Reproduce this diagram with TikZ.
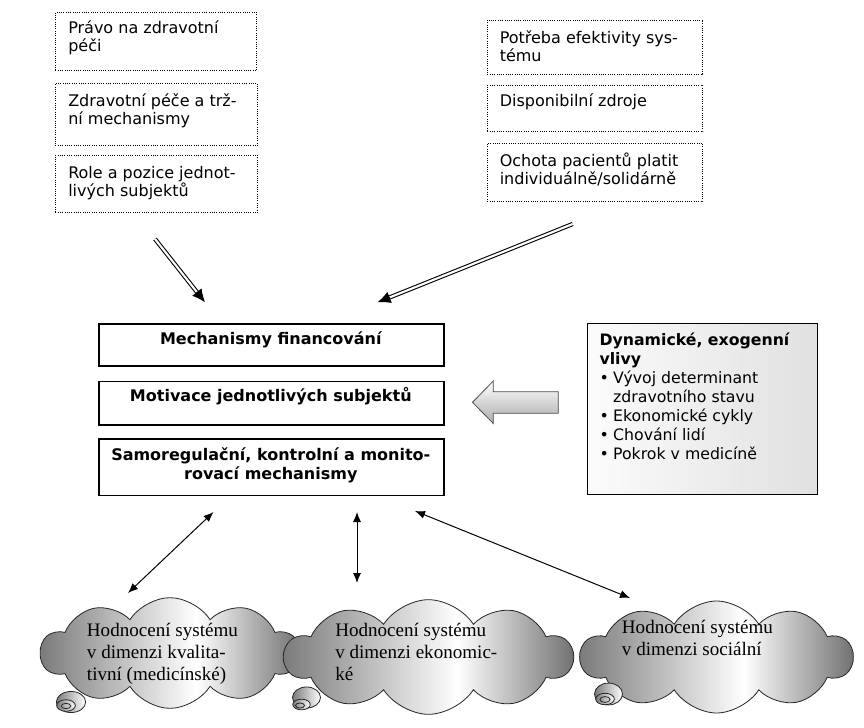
\documentclass[tikz,border=0pt]{standalone}
\usepackage{fontspec}
\newfontfamily\verd{DejaVu Sans}
\newfontfamily\tms{Liberation Serif}
\usetikzlibrary{shapes.symbols,arrows.meta,calc}
\pgfdeclarehorizontalshading{cloudsh}{100bp}{color(0bp)=(black!52); color(25bp)=(black!52); color(55bp)=(white); color(75bp)=(black!56); color(100bp)=(black!56)}
\pgfdeclarehorizontalshading{tailsh}{100bp}{color(0bp)=(black!52); color(25bp)=(black!52); color(75bp)=(white); color(100bp)=(white)}
\begin{document}
\begin{tikzpicture}[x=0.75pt,y=-0.75pt,
  dotbox/.style={draw, densely dotted, line width=0.7pt, inner sep=0, anchor=north west},
  txt/.style={font=\verd\fontsize{12}{13.5}\selectfont, align=left, inner sep=0, anchor=base west},
  midbox/.style={draw, line width=1pt, inner sep=0, anchor=north west, minimum width=258.75pt},
  boldtxt/.style={font=\verd\bfseries\fontsize{12}{14.25}\selectfont, align=center, inner sep=0, anchor=base},
  graytxt/.style={font=\verd\fontsize{11.8}{14.25}\selectfont, align=left, inner sep=0, anchor=base west},
  cloudtxt/.style={font=\tms\fontsize{14.3}{16.5}\selectfont, align=left, inner sep=0, anchor=base west},
  cloudbox/.style={cloud, cloud puffs=10, cloud puff arc=115, cloud ignores aspect, inner sep=0,
     draw=black!85, line width=0.6pt, shading=cloudsh},
  tailell/.style={draw=black!85, line width=0.6pt, shading=tailsh},
  dblline/.style={double, double distance=1.6pt, line width=0.8pt, shorten >=8pt},
  dblhead/.style={-{Latex[length=9.75pt,width=9pt]}, line width=0.8pt},
  biarrow/.style={{Latex[length=7.5pt,width=6pt]}-{Latex[length=7.5pt,width=6pt]}, line width=0.75pt}
]
\useasboundingbox (0,0) rectangle (864,728);

% top-left dotted boxes
\node[dotbox, minimum width=150.75pt, minimum height=43.5pt] (l1) at (55,12) {};
\node[txt] (tl1) at (68,51.5) {Právo na zdravotní\\péči};
\node[dotbox, minimum width=151.5pt, minimum height=46.5pt] (l2) at (55,83) {};
\node[txt] (tl2) at (68,124.7) {Zdravotní péče a trž-\\ní mechanismy};
\node[dotbox, minimum width=151.5pt, minimum height=42.75pt] (l3) at (55,155) {};
\node[txt] (tl3) at (68,196.3) {Role a pozice jednot-\\livých subjektů};

% top-right dotted boxes
\node[dotbox, minimum width=161.6pt, minimum height=40.5pt] (r1) at (487,19.5) {};
\node[txt] (tr1) at (499.5,61) {Potřeba efektivity sys-\\tému};
\node[dotbox, minimum width=161.6pt, minimum height=34.5pt] (r2) at (487,85) {};
\node[txt] (tr2) at (499.5,106.7) {Disponibilní zdroje};
\node[dotbox, minimum width=161.6pt, minimum height=43.5pt] (r3) at (487,143) {};
\node[txt] (tr3) at (499.5,184.7) {Ochota pacientů platit\\individuálně/solidárně};

% middle boxes
\node[midbox, minimum height=31.5pt] (ma) at (98.3,323.3) {};
\node[boldtxt] (tma) at (270.8,344.5) {Mechanismy financování};
\node[midbox, minimum height=32.7pt] (mb) at (98.3,380.7) {};
\node[boldtxt] (tmb) at (270.8,401) {Motivace jednotlivých subjektů};
\node[midbox, minimum height=42.5pt] (mc) at (98.3,438.3) {};
\node[boldtxt] (tmc) at (270.8,479) {Samoregulační, kontrolní a monito-\\rovací mechanismy};

% gray box
\node[draw, line width=0.75pt, anchor=north west, inner sep=0, minimum width=172.5pt, minimum height=128.25pt,
      left color=gray!3, right color=gray!24] (gb) at (587.3,323) {};
\node[graytxt] (tgb) at (599.3,459.7) {\textbf{Dynamické, exogenní}\\\textbf{vlivy}\\
\makebox[10.2pt][l]{\textbullet}Vývoj determinant\\
\hspace*{10.2pt}zdravotního stavu\\
\makebox[10.2pt][l]{\textbullet}Ekonomické cykly\\
\makebox[10.2pt][l]{\textbullet}Chování lidí\\
\makebox[10.2pt][l]{\textbullet}Pokrok v medicíně};

% block arrow
\draw[line width=0.6pt, draw=black!70, top color=white, bottom color=gray!65]
  (472.5,402.3) -- (493.3,381) -- (493.3,391.7) -- (558.3,391.7) -- (558.3,413.3)
  -- (493.3,413.3) -- (493.3,423.5) -- cycle;

% double-line arrows
\coordinate (d1s) at (155,239);
\coordinate (d1e) at (205,302.3);
\coordinate (d2s) at (572.7,224);
\coordinate (d2e) at (377.5,302.3);
\draw[dblline] (d1s) -- (d1e);
\draw[dblhead] ($(d1e)!10pt!(d1s)$) -- (d1e);
\draw[dblline] (d2s) -- (d2e);
\draw[dblhead] ($(d2e)!10pt!(d2s)$) -- (d2e);

% clouds
\node[cloudbox, minimum width=194pt, minimum height=83pt] (c1) at (170,653) {};
\draw[tailell] (71,702) ellipse [x radius=11pt, y radius=7.9pt];
\draw[tailell] (66,705.5) ellipse [x radius=7pt, y radius=4.3pt];
\draw[draw=black!85, line width=0.6pt] (66,706) ellipse [x radius=3.6pt, y radius=2pt];
\node[cloudtxt] (tc1) at (86.7,680) {Hodnocení systému\\v dimenzi kvalita-\\tivní (medicínské)};

\node[cloudbox, minimum width=216pt, minimum height=86pt] (c2) at (428.5,657) {};
\draw[tailell] (306.5,697.5) ellipse [x radius=10.5pt, y radius=7.9pt];
\draw[tailell] (301.5,704.5) ellipse [x radius=6.6pt, y radius=4pt];
\draw[draw=black!85, line width=0.6pt] (300,705.5) ellipse [x radius=3.4pt, y radius=1.9pt];
\node[cloudtxt] (tc2) at (335,680) {Hodnocení systému\\v dimenzi ekonomic-\\ké};

\node[cloudbox, minimum width=204pt, minimum height=84pt] (c3) at (716.5,657) {};
\draw[tailell] (608.5,694) ellipse [x radius=10.5pt, y radius=8.2pt];
\draw[tailell] (605,699) ellipse [x radius=7pt, y radius=4.3pt];
\draw[draw=black!85, line width=0.6pt] (605,699.5) ellipse [x radius=3.8pt, y radius=2.2pt];
\node[cloudtxt] (tc3) at (621.7,655) {Hodnocení systému\\v dimenzi sociální};

% bottom two-headed arrows
\coordinate (a1s) at (213.5,512);
\coordinate (a1e) at (128,593);
\coordinate (a2s) at (357,512);
\coordinate (a2e) at (357,583);
\coordinate (a3s) at (415,511);
\coordinate (a3e) at (630,598);
\draw[biarrow] (a1s) -- (a1e);
\draw[biarrow] (a2s) -- (a2e);
\draw[biarrow] (a3s) -- (a3e);
\end{tikzpicture}
\end{document}
